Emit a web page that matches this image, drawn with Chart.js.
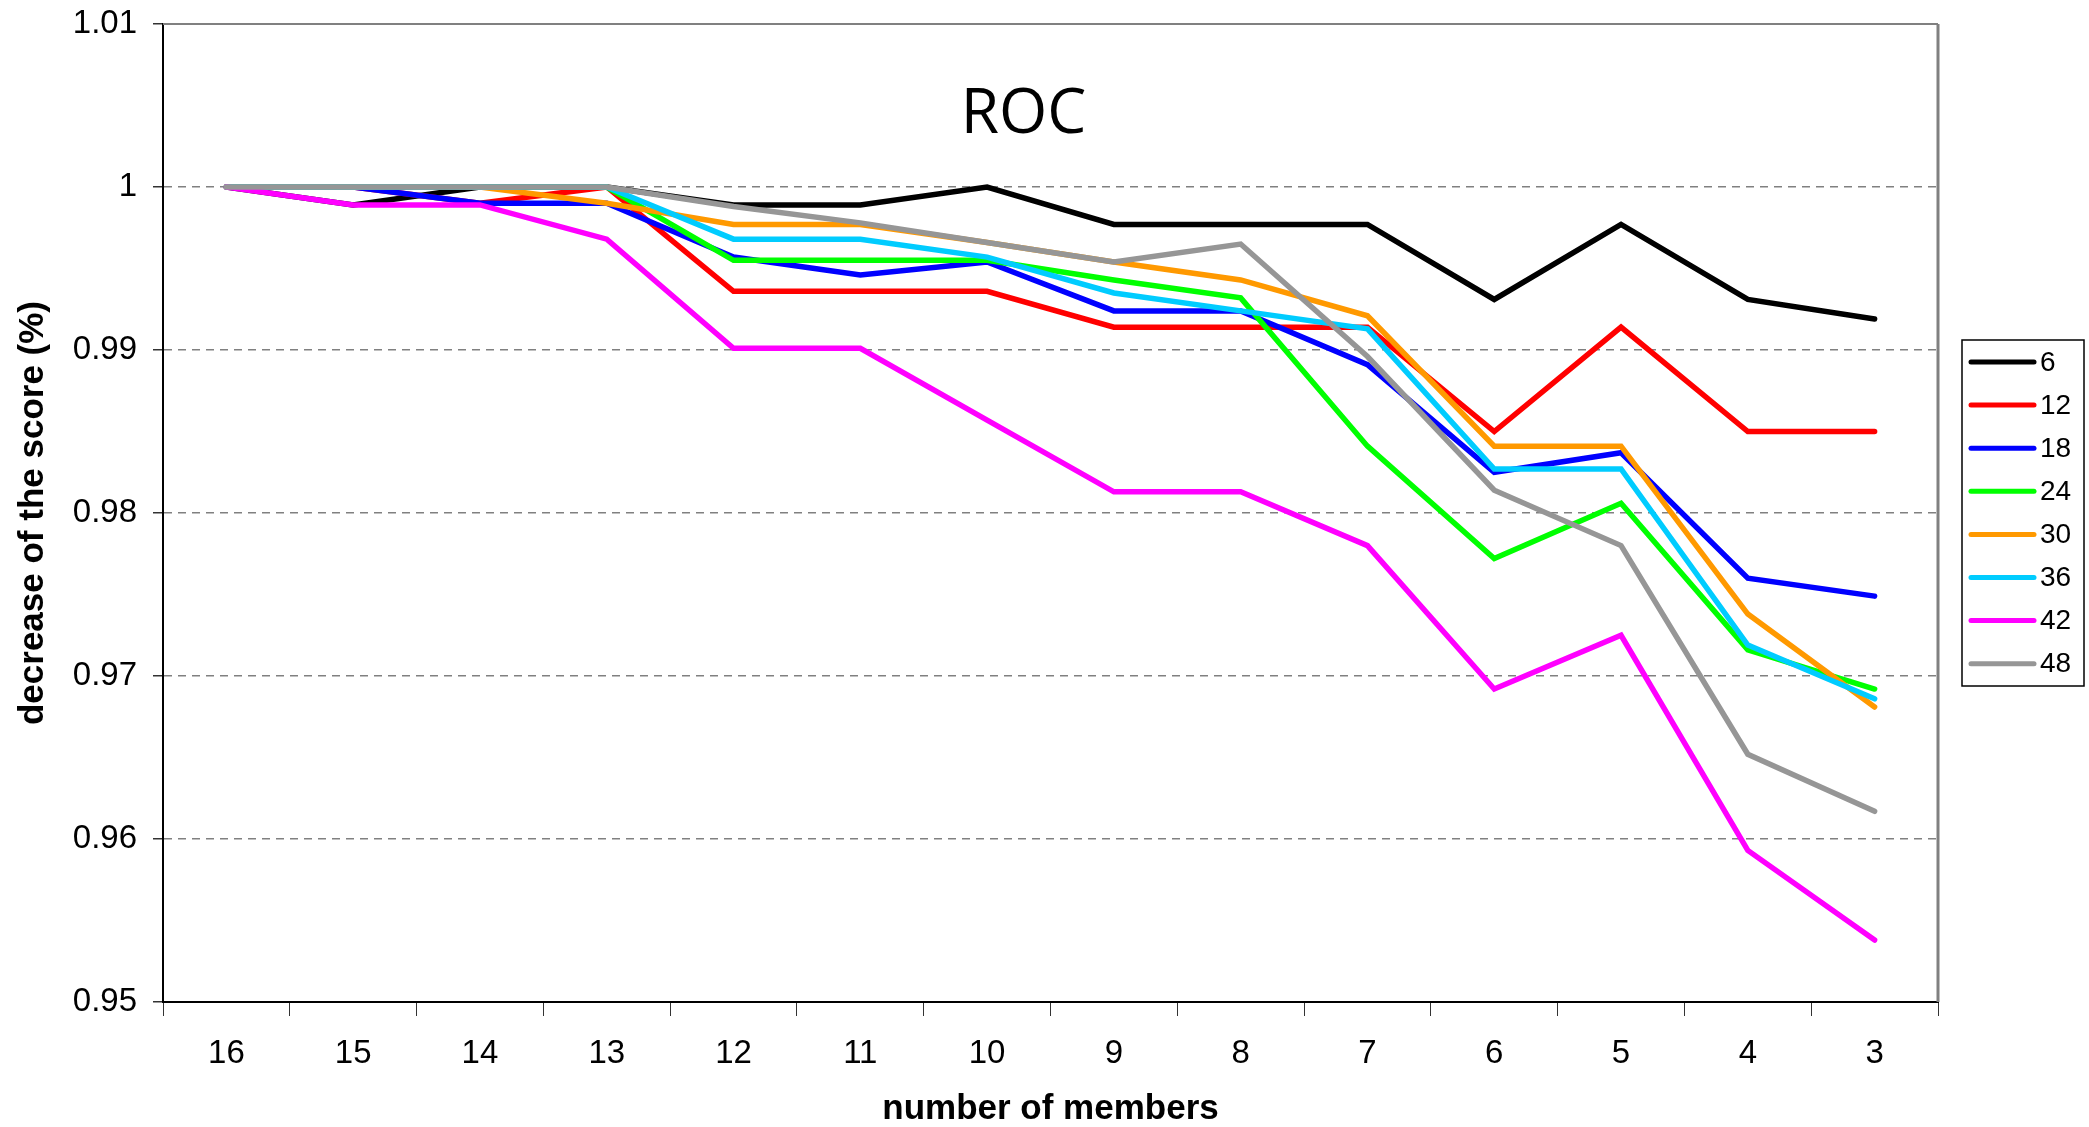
<!doctype html>
<html lang="en">

<head>
    <meta charset="utf-8">
    <title>ROC</title>
    <script src="https://cdn.jsdelivr.net/npm/chart.js@4.4.0/dist/chart.umd.min.js"></script>
    <style>
        body { margin: 0; background: #fff; overflow: hidden; }
        #box { width: 2089px; height: 1127px; position: relative; }
    </style>
</head>

<body>
    <div id="box">
        <canvas id="myChart"></canvas>
    </div>

<script>
    // x axis : number of members
    let members = ['16', '15', '14', '13', '12', '11', '10', '9', '8', '7', '6', '5', '4', '3'];

    // legend names
    let seriesNames = ['6', '12', '18', '24', '30', '36', '42', '48'];

    // values
    let s6  = [1, 0.9989, 1, 1, 0.9989, 0.9989, 1, 0.9977, 0.9977, 0.9977, 0.9931, 0.9977, 0.9931, 0.9919];
    let s12 = [1, 1, 0.999, 1, 0.9936, 0.9936, 0.9936, 0.9914, 0.9914, 0.9914, 0.985, 0.9914, 0.985, 0.985];
    let s18 = [1, 1, 0.999, 0.999, 0.9957, 0.9946, 0.9954, 0.9924, 0.9924, 0.9891, 0.9825, 0.9837, 0.976, 0.9749];
    let s24 = [1, 1, 1, 1, 0.9955, 0.9955, 0.9955, 0.9943, 0.9932, 0.9841, 0.9772, 0.9806, 0.9716, 0.9692];
    let s30 = [1, 1, 1, 0.999, 0.9977, 0.9977, 0.9966, 0.9954, 0.9943, 0.9921, 0.9841, 0.9841, 0.9738, 0.9681];
    let s36 = [1, 1, 1, 1, 0.9968, 0.9968, 0.9957, 0.9935, 0.9924, 0.9913, 0.9827, 0.9827, 0.9719, 0.9686];
    let s42 = [1, 0.9989, 0.9989, 0.9968, 0.9901, 0.9901, 0.9857, 0.9813, 0.9813, 0.978, 0.9692, 0.9725, 0.9593, 0.9538];
    let s48 = [1, 1, 1, 1, 0.9988, 0.9978, 0.9966, 0.9954, 0.9965, 0.9896, 0.9814, 0.978, 0.9652, 0.9617];

    // y axis ticks
    let yMin = 0.95;
    let yMax = 1.01;
    let yStep = 0.01;

    let allSeries = [s6, s12, s18, s24, s30, s36, s42, s48];
    let colors = ['#000000', '#FF0000', '#0000FF', '#00FF00', '#FF9900', '#00CCFF', '#FF00FF', '#969696'];

    let datasets = [];
    for (let i in allSeries) {
        datasets.push({
            label: seriesNames[i],
            data: allSeries[i],
            borderColor: colors[i],
            backgroundColor: colors[i],
            borderWidth: 5.5,
            borderCapStyle: 'round',
            pointRadius: 0,
            tension: 0,
            order: allSeries.length - i   // last series drawn on top, like excel
        });
    }

    // frame, title in the plot and boxed legend
    const extras = {
        id: 'extras',
        beforeDatasetsDraw(chart) {
            const ctx = chart.ctx;
            const a = chart.chartArea;
            ctx.save();
            ctx.strokeStyle = '#808080';
            ctx.lineWidth = 2;
            ctx.beginPath();
            ctx.moveTo(a.left, a.top);
            ctx.lineTo(a.right, a.top);
            ctx.stroke();
            ctx.lineWidth = 3;
            ctx.beginPath();
            ctx.moveTo(a.right, a.top);
            ctx.lineTo(a.right, a.bottom);
            ctx.stroke();

            ctx.fillStyle = '#000';
            ctx.font = '62px "Open Sans"';
            ctx.textAlign = 'center';
            ctx.textBaseline = 'alphabetic';
            ctx.fillText('ROC', (a.left + a.right) / 2 - 27, a.top + 109);
            ctx.restore();
        },
        afterDraw(chart) {
            const ctx = chart.ctx;
            const a = chart.chartArea;
            const sets = chart.data.datasets;
            const step = 43.1;
            const boxL = a.right + 24;
            const boxW = 122;
            const boxH = 346;
            const boxT = (a.top + a.bottom) / 2 - boxH / 2;
            ctx.save();
            ctx.strokeStyle = '#000';
            ctx.lineWidth = 1.5;
            ctx.strokeRect(boxL, boxT, boxW, boxH);
            ctx.font = '28px "Liberation Sans", Arial';
            ctx.textAlign = 'left';
            ctx.textBaseline = 'middle';
            for (let i = 0; i < sets.length; i++) {
                let y = boxT + 22 + i * step;
                ctx.strokeStyle = sets[i].borderColor;
                ctx.lineWidth = 5;
                ctx.lineCap = 'round';
                ctx.beginPath();
                ctx.moveTo(boxL + 9, y);
                ctx.lineTo(boxL + 72, y);
                ctx.stroke();
                ctx.fillStyle = '#000';
                ctx.fillText(sets[i].label, boxL + 78, y + 1);
            }
            ctx.restore();
        }
    };

    let chart = new Chart(document.getElementById('myChart'), {
        type: 'line',
        data: {
            labels: members,
            datasets: datasets
        },
        plugins: [extras],
        options: {
            responsive: true,
            maintainAspectRatio: false,
            animation: false,
            layout: {
                padding: { top: 24, right: 151, left: 0, bottom: 0 }
            },
            plugins: {
                legend: { display: false },
                tooltip: { enabled: false }
            },
            scales: {
                x: {
                    offset: true,
                    afterFit: s => { s.height = 125; },
                    grid: {
                        offset: true,
                        drawOnChartArea: false,
                        drawTicks: true,
                        tickLength: 14,
                        tickColor: '#333'
                    },
                    border: { color: '#000', width: 2 },
                    ticks: {
                        color: '#000',
                        padding: 18,
                        maxRotation: 0,
                        font: { family: 'Liberation Sans', size: 33 }
                    },
                    title: {
                        display: true,
                        text: 'number of members',
                        color: '#000',
                        font: { family: 'Liberation Sans', size: 35, weight: 'bold', lineHeight: 1.0 },
                        padding: { top: 0, bottom: 0 }
                    }
                },
                y: {
                    min: yMin,
                    max: yMax,
                    // fixed width, and no extra room above the top label
                    afterFit: s => {
                        s.width = 163;
                        s.paddingTop = 0;
                        s.paddingBottom = 0;
                    },
                    grid: {
                        color: c => {
                            let v = c.tick ? c.tick.value : 0;
                            if (Math.abs(v - yMin) < 1e-6 || Math.abs(v - yMax) < 1e-6) return 'rgba(0,0,0,0)';
                            return '#808080';
                        },
                        lineWidth: 1.5,
                        tickLength: 10,
                        tickColor: '#333'
                    },
                    border: { color: '#000', width: 2, dash: [8, 6] },
                    ticks: {
                        stepSize: yStep,
                        color: '#000',
                        padding: 16,
                        font: { family: 'Liberation Sans', size: 33 },
                        callback: v => String(Number(v.toFixed(2)))
                    },
                    title: {
                        display: true,
                        text: 'decrease of the score (%)',
                        color: '#000',
                        font: { family: 'Liberation Sans', size: 35, weight: 'bold', lineHeight: 1.2 },
                        padding: { top: 12, bottom: 0 }
                    }
                }
            }
        }
    });
</script>
</body>

</html>
